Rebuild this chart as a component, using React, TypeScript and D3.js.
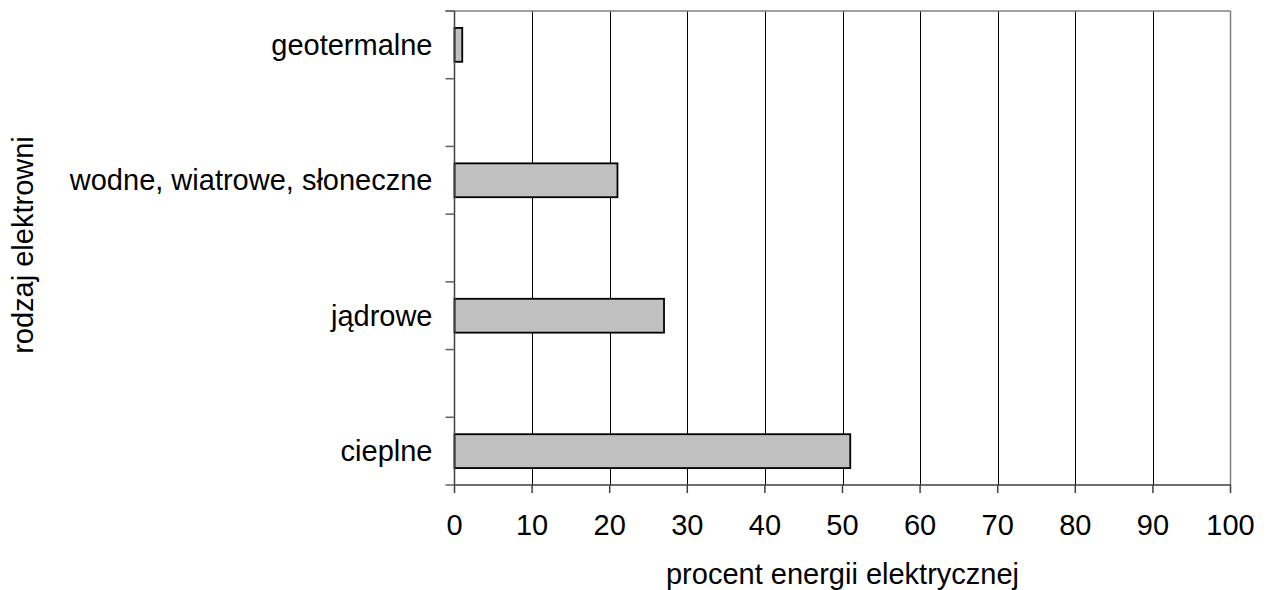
import * as d3 from "d3";
import { useEffect, useRef } from "react";

// 7 slots on the y axis, every other one is empty
const categories = ["geotermalne", "", "wodne, wiatrowe, słoneczne", "", "jądrowe", "", "cieplne"];
const values: (number | null)[] = [1, null, 21, null, 27, null, 51];
const xTicks = [0, 10, 20, 30, 40, 50, 60, 70, 80, 90, 100];

const App = () => {
    const ref = useRef<SVGSVGElement | null>(null);

    useEffect(() => {
        if (!ref.current) return;

        const width = 1270, height = 590;
        const left = 454.5, right = 1230.5, top = 11, bottom = 485;
        const font = "'Liberation Sans', Arial, sans-serif";

        const svg = d3.select(ref.current);
        svg.selectAll("*").remove();

        const x = d3.scaleLinear().domain([0, 100]).range([left, right]);

        const idx = categories.map((_, i) => String(i));
        // slots without padding, for the tick marks
        const slot = d3.scaleBand().domain(idx).range([top, bottom]);
        // bars take half of each slot
        const y = d3.scaleBand().domain(idx).range([top, bottom])
            .paddingInner(0.5).paddingOuter(0.25);

        // vertical grid lines
        svg.append("g")
            .selectAll("line")
            .data(xTicks.filter(d => d > 0 && d < 100))
            .join("line")
            .attr("x1", d => Math.round(x(d)) + 0.5)
            .attr("x2", d => Math.round(x(d)) + 0.5)
            .attr("y1", top)
            .attr("y2", bottom)
            .attr("stroke", "#000")
            .attr("stroke-width", 1);

        // top and right border
        svg.append("line")
            .attr("x1", left - 9).attr("x2", right)
            .attr("y1", top).attr("y2", top)
            .attr("stroke", "#808080").attr("stroke-width", 1.5);
        svg.append("line")
            .attr("x1", right).attr("x2", right)
            .attr("y1", top).attr("y2", bottom)
            .attr("stroke", "#808080").attr("stroke-width", 1.5);

        // bars
        svg.append("g")
            .selectAll("rect")
            .data(values.map((v, i) => ({ v, i })).filter(d => d.v !== null))
            .join("rect")
            .attr("x", x(0))
            .attr("y", d => y(String(d.i))!)
            .attr("width", d => x(d.v as number) - x(0))
            .attr("height", y.bandwidth())
            .attr("fill", "#c0c0c0")
            .attr("stroke", "#000")
            .attr("stroke-width", 1.8);

        // left axis with ticks at the slot boundaries
        const bounds = idx.map(d => slot(d)!).concat([bottom]);
        svg.append("line")
            .attr("x1", left).attr("x2", left)
            .attr("y1", top).attr("y2", bottom)
            .attr("stroke", "#404040").attr("stroke-width", 1.5);
        svg.append("g")
            .selectAll("line")
            .data(bounds)
            .join("line")
            .attr("x1", left - 9)
            .attr("x2", left)
            .attr("y1", d => d)
            .attr("y2", d => d)
            .attr("stroke", "#606060")
            .attr("stroke-width", 1.5);

        // category labels
        svg.append("g")
            .selectAll("text")
            .data(categories.map((c, i) => ({ c, i })).filter(d => d.c !== ""))
            .join("text")
            .attr("x", left - 22)
            .attr("y", d => slot(String(d.i))! + slot.bandwidth() / 2)
            .attr("dy", "0.35em")
            .attr("text-anchor", "end")
            .style("font-family", font)
            .style("font-size", "29px")
            .text(d => d.c);

        // bottom axis
        svg.append("line")
            .attr("x1", left).attr("x2", right)
            .attr("y1", bottom).attr("y2", bottom)
            .attr("stroke", "#404040").attr("stroke-width", 1.5);
        svg.append("g")
            .selectAll("line")
            .data(xTicks)
            .join("line")
            .attr("x1", d => x(d))
            .attr("x2", d => x(d))
            .attr("y1", bottom)
            .attr("y2", bottom + 8)
            .attr("stroke", "#404040")
            .attr("stroke-width", 1.5);
        svg.append("g")
            .selectAll("text")
            .data(xTicks)
            .join("text")
            .attr("x", d => x(d))
            .attr("y", 535)
            .attr("text-anchor", "middle")
            .style("font-family", font)
            .style("font-size", "29px")
            .text(d => d);

        // axis titles
        svg.append("text")
            .attr("x", (left + right) / 2)
            .attr("y", 584)
            .attr("text-anchor", "middle")
            .style("font-family", font)
            .style("font-size", "29px")
            .text("procent energii elektrycznej");

        svg.append("text")
            .attr("transform", `translate(33, 245) rotate(-90)`)
            .attr("text-anchor", "middle")
            .style("font-family", font)
            .style("font-size", "29px")
            .text("rodzaj elektrowni");

        svg.attr("width", width).attr("height", height);
    }, []);

    return <svg width={1270} height={590} ref={ref} style={{ position: "absolute", left: 0, top: 0 }} />;
};

export default App;
